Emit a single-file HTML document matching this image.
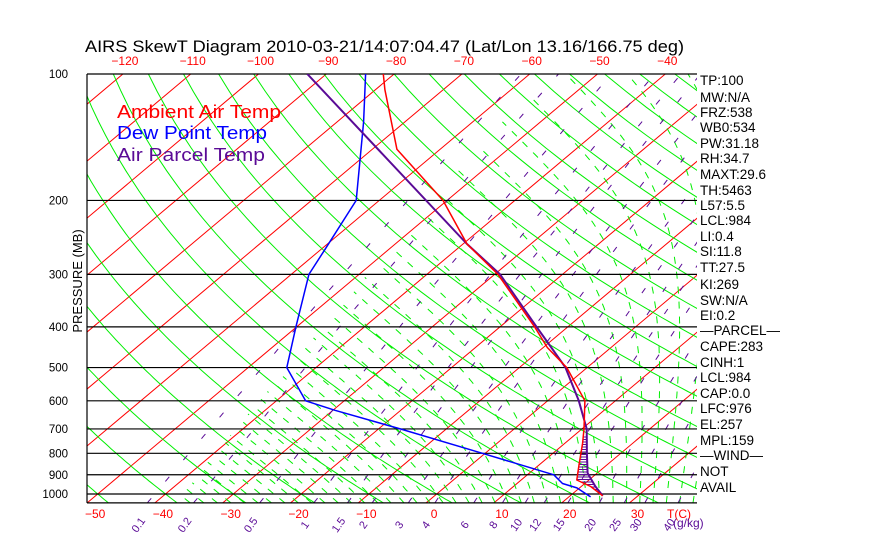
<!DOCTYPE html>
<html><head><meta charset="utf-8"><style>
html,body{margin:0;padding:0;background:#fff;}
svg{display:block;font-family:"Liberation Sans",sans-serif;}
</style></head><body>
<svg id="chart" width="870" height="560" viewBox="0 0 870 560" xmlns="http://www.w3.org/2000/svg">
<defs><clipPath id="plotclip"><rect x="87" y="74" width="610" height="429"/></clipPath></defs>
<rect x="0" y="0" width="870" height="560" fill="#fff"/>
<text x="85" y="52" font-size="17" textLength="599" lengthAdjust="spacingAndGlyphs" fill="#000">AIRS SkewT Diagram 2010-03-21/14:07:04.47 (Lat/Lon 13.16/166.75 deg)</text>
<g id="grid" clip-path="url(#plotclip)"></g>
<g id="isobars"></g>
<g id="profiles" clip-path="url(#plotclip)"></g>
<g id="labels"></g>
<text transform="translate(82,281) rotate(-90)" text-anchor="middle" font-size="13" fill="#000">PRESSURE (MB)</text>
<text x="117" y="118" font-size="18" textLength="164" lengthAdjust="spacingAndGlyphs" fill="#ff0000">Ambient Air Temp</text>
<text x="117" y="139" font-size="18" textLength="150" lengthAdjust="spacingAndGlyphs" fill="#0000ff">Dew Point Temp</text>
<text x="117" y="161" font-size="18" textLength="148" lengthAdjust="spacingAndGlyphs" fill="#5a0a96">Air Parcel Temp</text>
<text x="667" y="518" font-size="12" fill="#ff0000">T(C)</text>
<text x="673" y="527" font-size="12" fill="#5a0a96">(g/kg)</text>
</svg>
<script>
// ---- data ----
const isobarLevels = [100,200,300,400,500,600,700,800,900,1000];
const topTempTicks = [-120,-110,-100,-90,-80,-70,-60,-50,-40];
const bottomTempTicks = [-50,-40,-30,-20,-10,0,10,20,30];
const mixingRatios = [0.1,0.2,0.5,1,1.5,2,3,4,6,8,10,12,15,20,25,30,40];
const tempPressure = [100,109,151,200,254,300,400,448,500,600,700,757,850,926,960,1010];
const tempValues = [-81.6,-78.6,-66.4,-50.6,-39.4,-29.5,-14.9,-9.4,-3,5.5,10.3,12.6,15.8,18.2,21.4,24.8];
const dewPressure = [100,130,200,260,300,400,500,600,632,700,800,900,944,967,1016];
const dewValues = [-84.2,-76.1,-63.4,-59.5,-57.4,-50.1,-44.3,-35.7,-29.7,-16.8,-0.4,13.9,16.7,19.6,23.2];
const parcelPressure = [100,254,300,400,448,500,600,700,800,892,960,1010];
const parcelValues = [-92.8,-39.4,-29.2,-14.6,-8.8,-3.2,4.6,10.7,15,18.6,22.1,24.8];
const indexLabels = ["TP:100","MW:N/A","FRZ:538","WB0:534","PW:31.18","RH:34.7","MAXT:29.6","TH:5463","L57:5.5","LCL:984","LI:0.4","SI:11.8","TT:27.5","KI:269","SW:N/A","EI:0.2","\u2014PARCEL\u2014","CAPE:283","CINH:1","LCL:984","CAP:0.0","LFC:976","EL:257","MPL:159","\u2014WIND\u2014","NOT","AVAIL"];
const indexLabelY = [80,97,112,127,143,158,174,190,205,220,236,251,267,284,300,315,330,346,362,377,393,408,424,440,455,471,487];

// ---- axes ----
const NS="http://www.w3.org/2000/svg";
const Y0=74, KY=182.4, X0=87, XB=503, SX=6.78, SK=1.19;
function yP(p){return Y0+KY*Math.log(p/100);}
function xT(T,p){return X0+SX*(T+50)+SK*(XB-yP(p));}
function mk(tag,attrs,parent){const e=document.createElementNS(NS,tag);for(const k in attrs)e.setAttribute(k,attrs[k]);parent.appendChild(e);return e;}
const grid=document.getElementById('grid'), iso=document.getElementById('isobars'), prof=document.getElementById('profiles'), lab=document.getElementById('labels');
function pathFrom(pts){return pts.map((q,i)=>(i?'L':'M')+q[0].toFixed(1)+' '+q[1].toFixed(1)).join(' ');}

for(let T=-170;T<=50;T+=10){
  const l=mk('line',{x1:xT(T,1050),y1:yP(1050),x2:xT(T,100),y2:yP(100),stroke:'#ff0000','stroke-width':1},grid);
  
  
}
for(let th=-60;th<=200;th+=10){
  const pts=[];for(let p=1050;p>=100;p-=10){const T=(th+273.15)*Math.pow(p/1000,0.286)-273.15;pts.push([xT(T,p),yP(p)]);}
  const e=mk('path',{d:pathFrom(pts),fill:'none',stroke:'#00ee00','stroke-width':1},grid);
  
  
}
function es(T){return 6.112*Math.exp(17.67*T/(T+243.5));}
function rsat(T,p){const e=es(T);return 622*e/(p-e);}
function dTdp(Tk,p){const e=es(Tk-273.15);const rs=0.622*e/(p-e);return (287*Tk+2.5e6*rs)/(p*(1004+2.5e6*2.5e6*rs*0.622/(287*Tk*Tk)));}
for(let tw=-40;tw<=40;tw+=2){
  const up=[];let T=tw+273.15;
  for(let p=1000;p>=100;p-=5){up.push([T-273.15,p]);T-=dTdp(T,p)*5;}
  const dn=[];T=tw+273.15;
  for(let p=1000;p<=1050;p+=5){dn.push([T-273.15,p]);T+=dTdp(T,p)*5;}
  const all=dn.reverse().concat(up.slice(1));
  let segs=[],cur=[];
  all.forEach(q=>{ if(rsat(q[0],q[1])>=0.15){cur.push([xT(q[0],q[1]),yP(q[1])]);} else {if(cur.length>1)segs.push(cur);cur=[];} });
  if(cur.length>1)segs.push(cur);
  if(!segs.length)continue;
  const e=mk('path',{d:segs.map(pathFrom).join(' '),fill:'none',stroke:'#00ee00','stroke-width':1,'stroke-dasharray':'7 8'},grid);
  
  
}
function tdW(w,p){const e=w*p/(622+w);const L=Math.log(e/6.112);return 243.5*L/(17.67-L);}
mixingRatios.forEach(w=>{
  const pts=[];for(let p=1050;p>=100;p-=10)pts.push([xT(tdW(w,p),p),yP(p)]);
  const e=mk('path',{d:pathFrom(pts),fill:'none',stroke:'#5a0a96','stroke-width':1,'stroke-dasharray':'6 22'},grid);
  
  
  const x=xT(tdW(w,1050),1050)-6;
  const t=mk('text',{x:0,y:0,transform:'translate('+x.toFixed(1)+',527) rotate(-55)','font-size':11,fill:'#5a0a96','text-anchor':'middle'},lab);
  t.textContent=String(w);
  
  
});
isobarLevels.forEach(p=>{
  const l=mk('line',{x1:87,y1:yP(p),x2:697,y2:yP(p),stroke:'#000','stroke-width':1.2},iso);
  
  
  const t=mk('text',{x:68,y:yP(p)+4,'font-size':11.5,'text-anchor':'end',fill:'#000'},lab);
  t.textContent=String(p);
  
  
});
const bl=mk('line',{x1:87,y1:yP(1050),x2:697,y2:yP(1050),stroke:'#000','stroke-width':1.2},iso);


const ll=mk('line',{x1:87,y1:74,x2:87,y2:yP(1050),stroke:'#000','stroke-width':1.2},iso);


topTempTicks.forEach(T=>{
  const t=mk('text',{x:xT(T,100)+2,y:65,'font-size':12,'text-anchor':'middle',fill:'#ff0000'},lab);
  t.textContent=(T<0?'\u2212':'')+Math.abs(T);
  
  
});
bottomTempTicks.forEach(T=>{
  const t=mk('text',{x:xT(T,1050)+8,y:518,'font-size':12,'text-anchor':'middle',fill:'#ff0000'},lab);
  t.textContent=(T<0?'\u2212':'')+Math.abs(T);
  
  
});
indexLabels.forEach((s,i)=>{
  const t=mk('text',{x:700,y:indexLabelY[i]+5,'font-size':13.5,fill:'#000'},lab);
  t.textContent=s;
  
  
});
function interp(ps,vs,p){
  for(let i=0;i<ps.length-1;i++){if(p>=ps[i]&&p<=ps[i+1]){const f=(Math.log(p)-Math.log(ps[i]))/(Math.log(ps[i+1])-Math.log(ps[i]));return vs[i]+f*(vs[i+1]-vs[i]);}}
  return null;
}
for(let y=437;y<=493;y+=2.5){
  const p=100*Math.exp((y-Y0)/KY);
  const a=interp(tempPressure,tempValues,p), b=interp(parcelPressure,parcelValues,p);
  if(a===null||b===null)continue;
  const h=mk('line',{x1:xT(a,p),y1:y,x2:xT(b,p),y2:y,stroke:'#5a0a96','stroke-width':1},prof);
  
  
}
function series(ps,vs,color,name,w){
  const pts=ps.map((p,i)=>[xT(vs[i],p),yP(p)]);
  const e=mk('path',{d:pathFrom(pts),fill:'none',stroke:color,'stroke-width':w,'stroke-linejoin':'round'},prof);
  
  
}
series(dewPressure,dewValues,'#0000ff','dew-point-line',1.5);
series(parcelPressure,parcelValues,'#5a0a96','parcel-temp-line',2);
series(tempPressure,tempValues,'#ff0000','ambient-temp-line',1.5);
</script>
</body></html>
